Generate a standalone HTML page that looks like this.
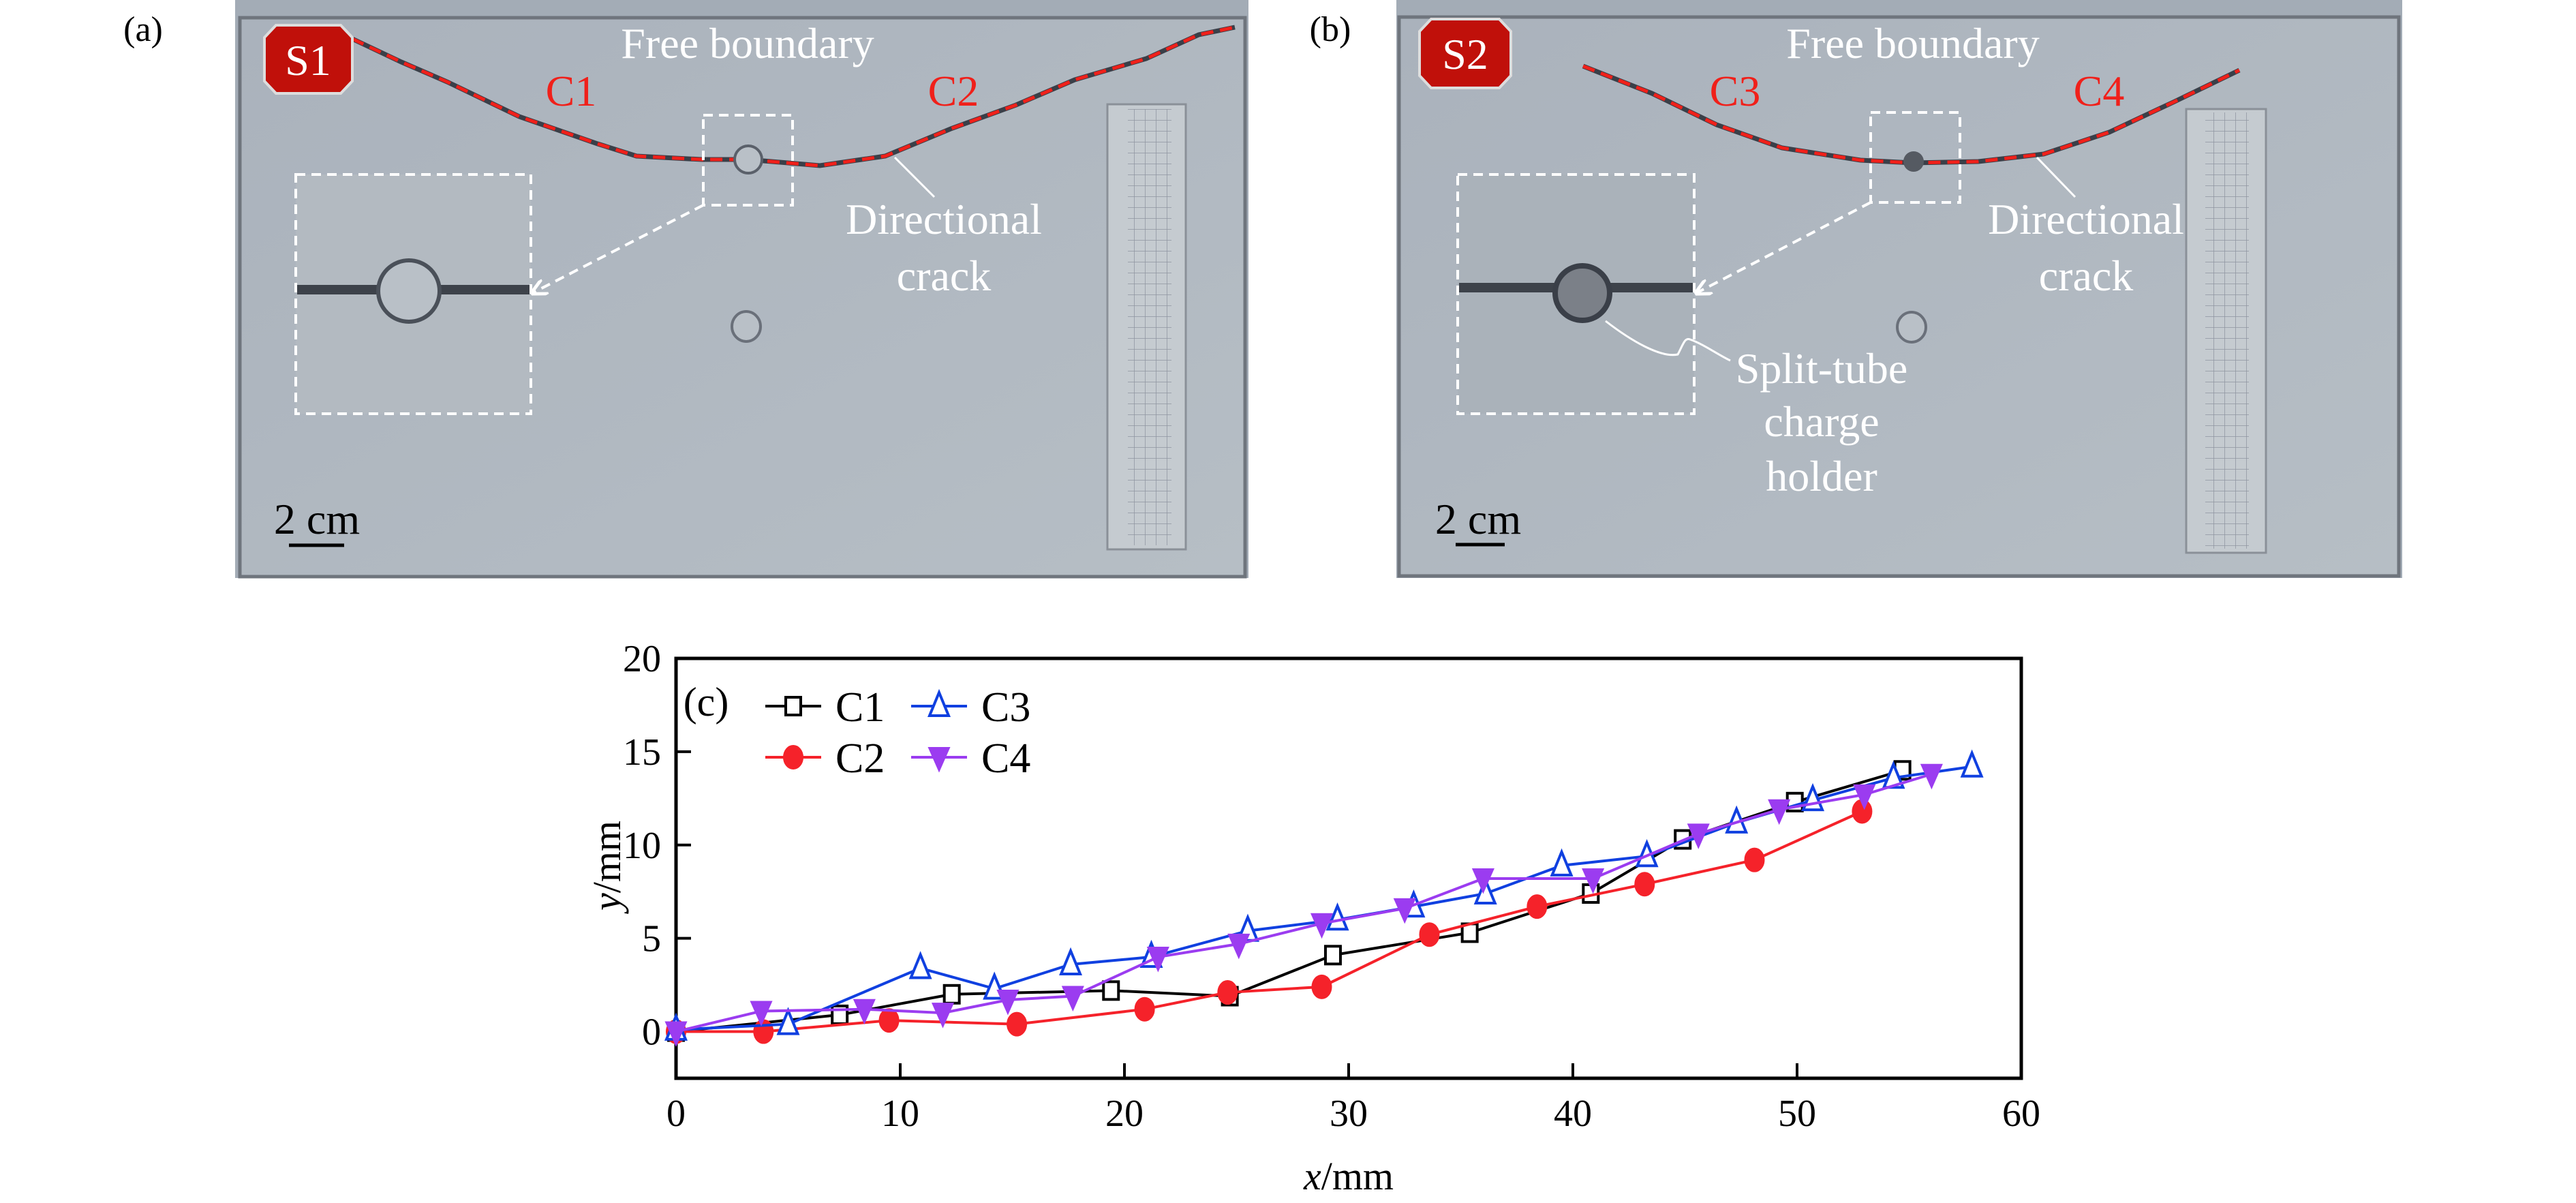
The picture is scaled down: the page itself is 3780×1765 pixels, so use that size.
<!DOCTYPE html>
<html><head><meta charset="utf-8"><style>
html,body{margin:0;padding:0;background:#fff;}
svg, svg text{font-family:"Liberation Serif","DejaVu Serif",serif;}
</style></head><body>
<svg id="fig" width="3780" height="1760" viewBox="0 0 3780 1760" xmlns="http://www.w3.org/2000/svg" font-family="Liberation Serif, DejaVu Serif, serif">
<defs>
<linearGradient id="plateg" x1="0" y1="0" x2="1" y2="1"><stop offset="0" stop-color="#aab2bc"/><stop offset="1" stop-color="#b6bec5"/></linearGradient>
<marker id="ah" viewBox="0 0 10 10" refX="8" refY="5" markerWidth="6" markerHeight="6" orient="auto"><path d="M0,0 L10,5 L0,10" fill="none" stroke="#fff" stroke-width="2"/></marker>
<pattern id="rgrid" width="16" height="16" patternUnits="userSpaceOnUse"><path d="M16,0 L0,0 0,16" fill="none" stroke="#6a6f80" stroke-width="1.5" opacity="0.6"/></pattern>
</defs>

<!-- Panel a -->
<g>
<rect x="345" y="0" width="1487" height="848" fill="#a3acb6"/>
<rect x="352" y="26" width="1475" height="820" fill="url(#plateg)" stroke="#6f757d" stroke-width="5"/>
<polyline points="517,57 589,91 656,120 762,171 877,211 934,229 1030,234 1097,234 1203,243 1299,229 1395,189 1491,154 1577,117 1682,86 1759,51 1812,40" fill="none" stroke="#3a3f48" stroke-width="7"/>
<polyline points="517,57 589,91 656,120 762,171 877,211 934,229 1030,234 1097,234 1203,243 1299,229 1395,189 1491,154 1577,117 1682,86 1759,51 1812,40" fill="none" stroke="#f0201a" stroke-width="5" stroke-dasharray="18,10"/>
<polygon points="405,37 500,37 517,55 517,119 500,137 405,137 388,119 388,55" fill="#c0100a" stroke="#ddd" stroke-width="4"/>
<text x="452" y="110" font-size="64" fill="#fff" text-anchor="middle">S1</text>
<text x="1097" y="85" font-size="64" fill="#fff" text-anchor="middle">Free boundary</text>
<text x="838" y="155" font-size="64" fill="#f0201a" text-anchor="middle">C1</text>
<text x="1399" y="155" font-size="64" fill="#f0201a" text-anchor="middle">C2</text>
<ellipse cx="1098" cy="234" rx="20" ry="20" fill="#b9c0c7" stroke="#5a606a" stroke-width="4"/>
<rect x="1032" y="169" width="131" height="132" fill="none" stroke="#fff" stroke-width="4" stroke-dasharray="14,9"/>
<rect x="434" y="256" width="345" height="351" fill="#b3bac1" stroke="#fff" stroke-width="4" stroke-dasharray="14,9"/>
<rect x="436" y="418" width="341" height="14" fill="#3d424a"/>
<circle cx="600" cy="427" r="45" fill="#b9c0c7" stroke="#4a5059" stroke-width="6"/>
<line x1="1032" y1="301" x2="783" y2="429" stroke="#fff" stroke-width="4" stroke-dasharray="14,9" marker-end="url(#ah)"/>
<line x1="1313" y1="231" x2="1371" y2="289" stroke="#fff" stroke-width="3"/>
<text x="1385" y="343" font-size="64" fill="#fff" text-anchor="middle">Directional</text>
<text x="1385" y="426" font-size="64" fill="#fff" text-anchor="middle">crack</text>
<ellipse cx="1095" cy="479" rx="21" ry="22" fill="#b9c0c7" stroke="#6a707a" stroke-width="4"/>
<rect x="1625" y="153" width="115" height="653" fill="#c5cbd0" stroke="#8a9098" stroke-width="3"/>
<rect x="1655" y="160" width="64" height="640" fill="url(#rgrid)"/>
<text x="465" y="783" font-size="64" fill="#000" text-anchor="middle">2 cm</text>
<line x1="424" y1="800" x2="505" y2="800" stroke="#000" stroke-width="5"/>
</g>
<text x="210" y="60" font-size="52" fill="#000" text-anchor="middle">(a)</text>

<!-- Panel b -->
<g>
<rect x="2049" y="0" width="1476" height="848" fill="#a3acb6"/>
<rect x="2053" y="25" width="1467" height="820" fill="url(#plateg)" stroke="#6f757d" stroke-width="5"/>
<polyline points="2323,97 2424,137 2519,183 2615,217 2730,235 2807,239 2903,237 2999,226 3095,194 3191,149 3286,103" fill="none" stroke="#3a3f48" stroke-width="7"/>
<polyline points="2323,97 2424,137 2519,183 2615,217 2730,235 2807,239 2903,237 2999,226 3095,194 3191,149 3286,103" fill="none" stroke="#f0201a" stroke-width="5" stroke-dasharray="18,10"/>
<polygon points="2100,28 2200,28 2217,46 2217,111 2200,129 2100,129 2083,111 2083,46" fill="#c0100a" stroke="#ddd" stroke-width="4"/>
<text x="2150" y="101" font-size="64" fill="#fff" text-anchor="middle">S2</text>
<text x="2807" y="85" font-size="64" fill="#fff" text-anchor="middle">Free boundary</text>
<text x="2546" y="155" font-size="64" fill="#f0201a" text-anchor="middle">C3</text>
<text x="3080" y="155" font-size="64" fill="#f0201a" text-anchor="middle">C4</text>
<circle cx="2808" cy="237" r="15" fill="#555a62"/>
<rect x="2745" y="165" width="131" height="132" fill="none" stroke="#fff" stroke-width="4" stroke-dasharray="14,9"/>
<rect x="2139" y="256" width="347" height="351" fill="#aab2ba" stroke="#fff" stroke-width="4" stroke-dasharray="14,9"/>
<rect x="2141" y="415" width="343" height="14" fill="#3d424a"/>
<circle cx="2322" cy="430" r="40" fill="#7b8088" stroke="#3a3f48" stroke-width="8"/>
<line x1="2745" y1="297" x2="2491" y2="429" stroke="#fff" stroke-width="4" stroke-dasharray="14,9" marker-end="url(#ah)"/>
<line x1="2989" y1="231" x2="3045" y2="289" stroke="#fff" stroke-width="3"/>
<path d="M2356,471 C2400,505 2440,525 2462,520 C2470,505 2472,495 2480,498 C2500,505 2520,520 2539,529" fill="none" stroke="#fff" stroke-width="3"/>
<text x="3061" y="343" font-size="64" fill="#fff" text-anchor="middle">Directional</text>
<text x="3061" y="426" font-size="64" fill="#fff" text-anchor="middle">crack</text>
<text x="2673" y="562" font-size="64" fill="#fff" text-anchor="middle">Split-tube</text>
<text x="2673" y="640" font-size="64" fill="#fff" text-anchor="middle">charge</text>
<text x="2673" y="720" font-size="64" fill="#fff" text-anchor="middle">holder</text>
<ellipse cx="2805" cy="480" rx="21" ry="22" fill="#b9c0c7" stroke="#6a707a" stroke-width="4"/>
<rect x="3208" y="160" width="117" height="651" fill="#c5cbd0" stroke="#8a9098" stroke-width="3"/>
<rect x="3236" y="165" width="64" height="640" fill="url(#rgrid)"/>
<text x="2169" y="783" font-size="64" fill="#000" text-anchor="middle">2 cm</text>
<line x1="2136" y1="799" x2="2208" y2="799" stroke="#000" stroke-width="5"/>
</g>
<text x="1952" y="60" font-size="52" fill="#000" text-anchor="middle">(b)</text>

<!-- Chart -->
<g id="chart"></g>
</svg>
<script>
const xTicks = [0, 10, 20, 30, 40, 50, 60];
const yTicks = [0, 5, 10, 15, 20];
const c1X = [0, 7.3, 12.3, 19.4, 24.7, 29.3, 35.4, 40.8, 44.9, 49.9, 54.7];
const c1Y = [0, 0.9, 2.0, 2.2, 1.9, 4.1, 5.3, 7.4, 10.3, 12.3, 14.0];
const c2X = [0, 3.9, 9.5, 15.2, 20.9, 24.6, 28.8, 33.6, 38.4, 43.2, 48.1, 52.9];
const c2Y = [0, 0.0, 0.6, 0.4, 1.2, 2.1, 2.4, 5.2, 6.7, 7.9, 9.2, 11.8];
const c3X = [0, 5.0, 10.9, 14.2, 17.6, 21.2, 25.5, 29.5, 32.9, 36.1, 39.5, 43.3, 47.3, 50.7, 54.3, 57.8];
const c3Y = [0.1, 0.4, 3.4, 2.3, 3.6, 4.0, 5.4, 6.0, 6.7, 7.4, 8.9, 9.4, 11.2, 12.4, 13.6, 14.2];
const c4X = [0, 3.8, 8.4, 11.9, 14.8, 17.7, 21.5, 25.1, 28.8, 32.5, 36.0, 40.9, 45.6, 49.2, 53.0, 56.0];
const c4Y = [0, 1.1, 1.2, 1.0, 1.7, 1.9, 4.0, 4.7, 5.8, 6.6, 8.2, 8.2, 10.6, 11.9, 12.7, 13.8];

const NS = 'http://www.w3.org/2000/svg';
const L = 992, R = 2966, T = 966, B = 1582;
const xMin = 0, xMax = 60, yMin = -2.5, yMax = 20;
function sx(v){ return L + (v - xMin) / (xMax - xMin) * (R - L); }
function sy(v){ return B - (v - yMin) / (yMax - yMin) * (B - T); }
const chart = document.getElementById('chart');
function mk(tag, attrs, parent){ const e = document.createElementNS(NS, tag); for (const k in attrs) e.setAttribute(k, attrs[k]); (parent||chart).appendChild(e); return e; }

const frame = mk('rect', {x:L, y:T, width:R-L, height:B-T, fill:'none', stroke:'#000', 'stroke-width':5});



xTicks.forEach(t => {
  if (t > xMin && t < xMax) {
    const tk = mk('line', {x1:sx(t), y1:B, x2:sx(t), y2:B-22, stroke:'#000', 'stroke-width':4});
    
    
  }
  const lb = mk('text', {x:sx(t), y:B+70, 'font-size':56, 'text-anchor':'middle', fill:'#000'});
  lb.textContent = t;
  
  
});
yTicks.forEach(t => {
  if (t > yMin && t < yMax) {
    const tk = mk('line', {x1:L, y1:sy(t), x2:L+22, y2:sy(t), stroke:'#000', 'stroke-width':4});
    
    
  }
  const lb = mk('text', {x:L-22, y:sy(t)+19, 'font-size':56, 'text-anchor':'end', fill:'#000'});
  lb.textContent = t;
  
  
});
const xl = mk('text', {x:(L+R)/2, y:1745, 'font-size':58, 'text-anchor':'middle', fill:'#000'});
xl.innerHTML = '<tspan font-style="italic">x</tspan>/mm';


const yl = mk('text', {x:0, y:0, 'font-size':58, 'text-anchor':'middle', fill:'#000', transform:'translate(910,1270) rotate(-90)'});
yl.innerHTML = '<tspan font-style="italic">y</tspan>/mm';



function marker(kind, color, x, y, g){
  if (kind === 'square') return mk('rect', {x:x-11, y:y-13, width:22, height:26, fill:'#fff', stroke:color, 'stroke-width':4}, g);
  if (kind === 'circle') return mk('ellipse', {cx:x, cy:y, rx:14, ry:17, fill:color, stroke:color, 'stroke-width':2}, g);
  if (kind === 'tri') return mk('polygon', {points:`${x},${y-20} ${x-14},${y+14} ${x+14},${y+14}`, fill:'#fff', stroke:color, 'stroke-width':4}, g);
  return mk('polygon', {points:`${x-15},${y-14} ${x+15},${y-14} ${x},${y+20}`, fill:color, stroke:color, 'stroke-width':2}, g);
}
const series = [
  {name:'c1', xs:c1X, ys:c1Y, color:'#000000', kind:'square'},
  {name:'c2', xs:c2X, ys:c2Y, color:'#f5222a', kind:'circle'},
  {name:'c3', xs:c3X, ys:c3Y, color:'#1040e0', kind:'tri'},
  {name:'c4', xs:c4X, ys:c4Y, color:'#9b3cf0', kind:'dtri'}
];
series.forEach(s => {
  const g = mk('g', {});
  
  
  const pts = s.xs.map((v,i) => sx(v) + ',' + sy(s.ys[i])).join(' ');
  const pl = mk('polyline', {points:pts, fill:'none', stroke:s.color, 'stroke-width':4}, g);
  
  
  s.xs.forEach((v,i) => {
    const m = marker(s.kind, s.color, sx(v), sy(s.ys[i]), g);
    
    
  });
});

const pc = mk('text', {x:1036, y:1050, 'font-size':60, fill:'#000', 'text-anchor':'middle'});
pc.textContent = '(c)';


const legendItems = [
  {s:series[0], label:'C1', x:1123, y:1036},
  {s:series[2], label:'C3', x:1337, y:1036},
  {s:series[1], label:'C2', x:1123, y:1111},
  {s:series[3], label:'C4', x:1337, y:1111}
];
legendItems.forEach(it => {
  const g = mk('g', {});
  
  
  mk('line', {x1:it.x, y1:it.y, x2:it.x+82, y2:it.y, stroke:it.s.color, 'stroke-width':4}, g);
  marker(it.s.kind, it.s.color, it.x+41, it.y, g);
  const t = mk('text', {x:it.x+103, y:it.y+22, 'font-size':62, fill:'#000'}, g);
  t.textContent = it.label;
});
</script>
</body></html>
